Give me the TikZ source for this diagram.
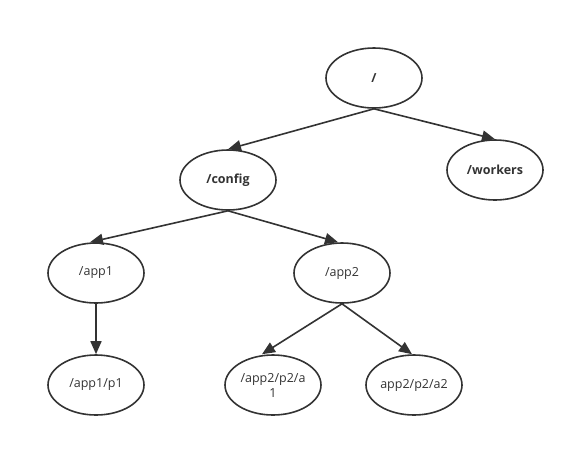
\documentclass[tikz,border=0pt]{standalone}
\usepackage{fontspec}
\setmainfont{Open Sans}
\usetikzlibrary{arrows.meta,shapes.geometric}
\definecolor{ink}{HTML}{333333}
\begin{document}
\begin{tikzpicture}[x=1pt,y=-1pt,
  nd/.style={draw=ink,line width=1.6pt,ellipse,minimum width=96pt,minimum height=60pt,inner sep=0pt,text=ink,font=\fontsize{12.5}{15}\selectfont,align=center},
  bnd/.style={nd,font=\fontsize{12.5}{15}\selectfont\bfseries},
  arr/.style={draw=ink,line width=1.6pt,-{Triangle[length=13pt,width=11pt]}}]
\useasboundingbox (0,0) rectangle (575,448);
\node[bnd] (root) at (374,78) {/};
\node[bnd] (config) at (228,180) {/config};
\node[bnd] (workers) at (495,170) {/workers};
\node[nd] (app1) at (96,273) {/app1};
\node[nd] (app2) at (342,273) {/app2};
\node[nd] (p1) at (96,385) {/app1/p1};
\node[nd] (a1) at (273,385) {/app2/p2/a\\1};
\node[nd] (a2) at (414,385) {app2/p2/a2};
\draw[arr] (root.south) -- (config.north);
\draw[arr] (root.south) -- (workers.north);
\draw[arr] (config.south) -- ([xshift=-6pt]app1.north);
\draw[arr] (config.south) -- ([xshift=-4pt]app2.north);
\draw[arr] (app1.south) -- (p1.north);
\draw[arr] (app2.south) -- ([xshift=-11pt]a1.north);
\draw[arr] (app2.south) -- ([xshift=-2pt]a2.north);
\end{tikzpicture}
\end{document}
